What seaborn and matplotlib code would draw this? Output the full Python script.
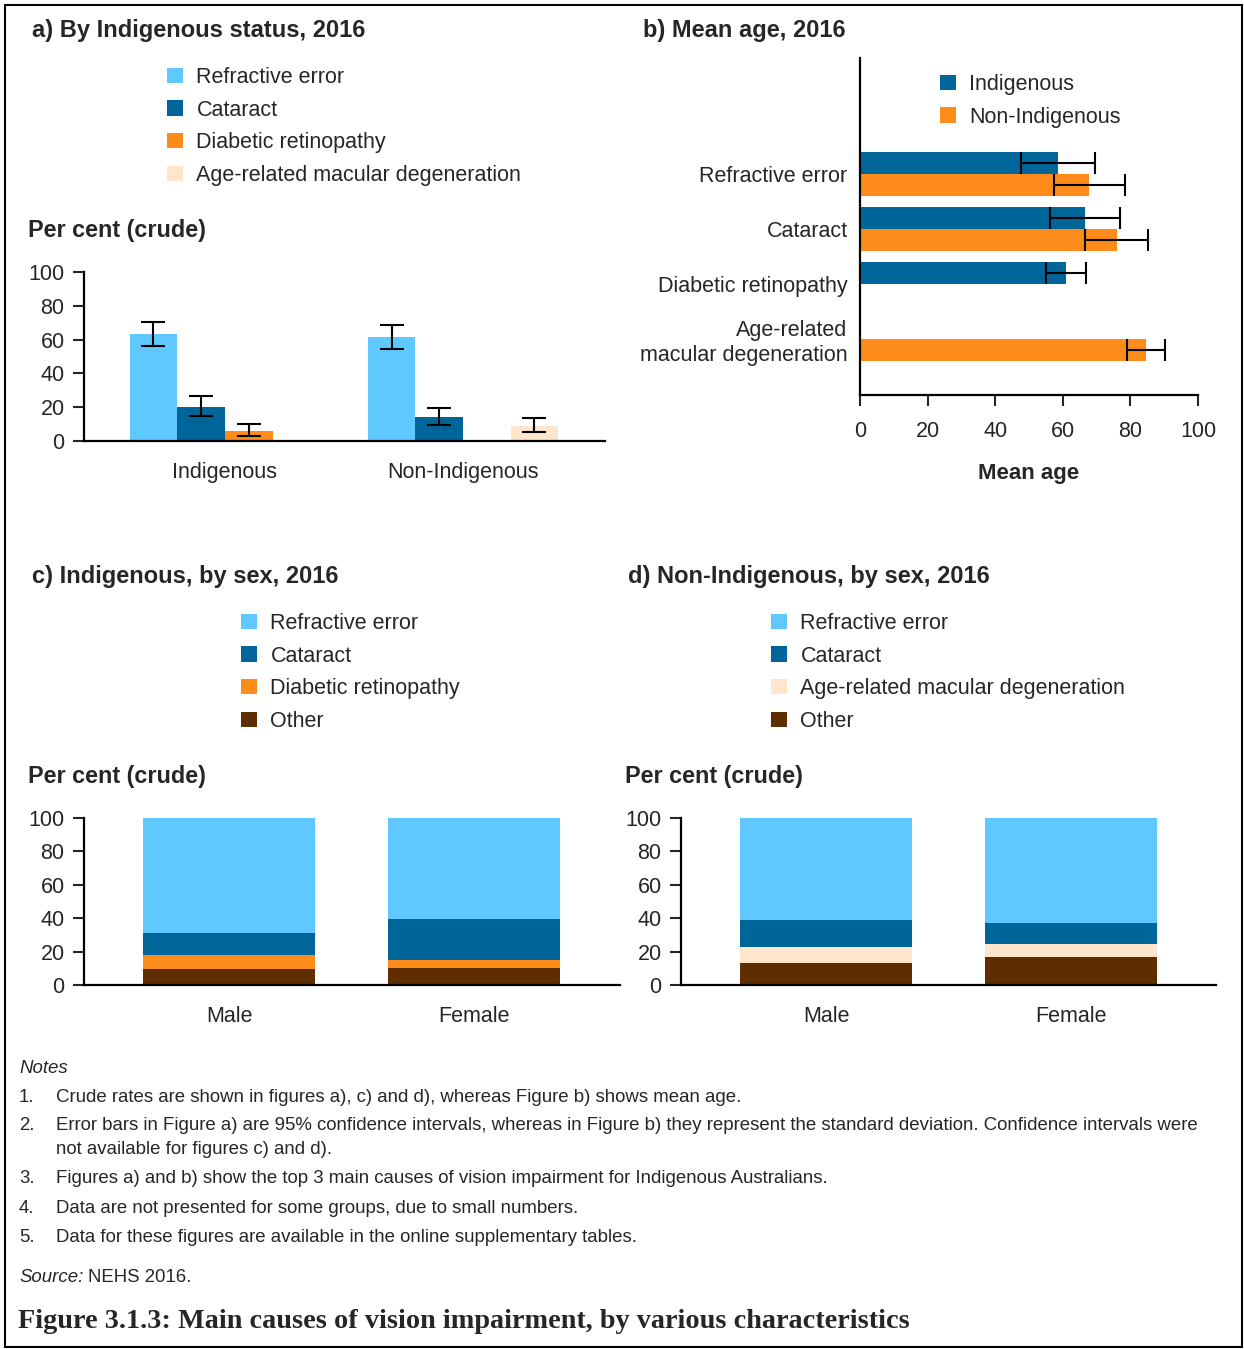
import numpy as np
import pandas as pd
import matplotlib
matplotlib.use("Agg")
import matplotlib.pyplot as plt
import matplotlib.colors as mcolors
from matplotlib.patches import Patch, Rectangle
import seaborn as sns

# ── Colours ────────────────────────────────────────────────────
C_RE = "#5fc8fe"
C_CAT = "#006699"
C_DR = "#ff8b1a"
C_AMD = "#ffe5cc"
C_OTH = "#5e2e00"

# ── a) By Indigenous status (crude %, 95% CI) ──────────────────
CAUSES_A = ["Refractive error", "Cataract", "Diabetic retinopathy",
            "Age-related macular degeneration"]
STATUS = ["Indigenous", "Non-Indigenous"]
a_status = ["Indigenous", "Indigenous", "Indigenous",
            "Non-Indigenous", "Non-Indigenous", "Non-Indigenous"]
a_cause = ["Refractive error", "Cataract", "Diabetic retinopathy",
           "Refractive error", "Cataract", "Age-related macular degeneration"]
a_pct = [63.2, 20.0, 5.7, 61.5, 14.0, 8.9]
a_lo = [56.0, 14.6, 2.8, 54.5, 9.5, 5.1]
a_hi = [70.6, 26.7, 9.9, 68.4, 19.6, 13.8]

# ── b) Mean age (SD) ───────────────────────────────────────────
CAUSES_B = ["Refractive error", "Cataract", "Diabetic retinopathy",
            "Age-related\nmacular degeneration"]
b_cause = ["Refractive error", "Refractive error", "Cataract", "Cataract",
           "Diabetic retinopathy", "Age-related\nmacular degeneration"]
b_status = ["Indigenous", "Non-Indigenous", "Indigenous", "Non-Indigenous",
            "Indigenous", "Non-Indigenous"]
b_age = [58.6, 67.8, 66.6, 76.0, 60.9, 84.6]
b_sd = [11.0, 10.5, 10.3, 9.3, 5.9, 5.6]

# ── c) / d) By sex (crude %, stacked) ──────────────────────────
SEX = ["Male", "Female"]
c_other = [9.7, 10.3]
c_dr = [8.0, 4.8]
c_cat = [13.5, 24.6]
c_re = [68.8, 60.3]
d_other = [13.3, 16.9]
d_amd = [9.5, 7.7]
d_cat = [16.3, 12.7]
d_re = [60.9, 62.7]

NOTES = [
    ["Crude rates are shown in figures a), c) and d), whereas Figure b) shows mean age."],
    ["Error bars in Figure a) are 95% confidence intervals, whereas in Figure b) they represent the standard deviation. Confidence intervals were",
     "not available for figures c) and d)."],
    ["Figures a) and b) show the top 3 main causes of vision impairment for Indigenous Australians."],
    ["Data are not presented for some groups, due to small numbers."],
    ["Data for these figures are available in the online supplementary tables."],
]

sns.set_style("white")
plt.rcParams["font.family"] = ["Liberation Sans", "DejaVu Sans"]

W, H = 1244, 1349
fig = plt.figure(figsize=(W / 100, H / 100), dpi=100)


def px_axes(x0, y0, x1, y1):
    return fig.add_axes([x0 / W, 1 - y1 / H, (x1 - x0) / W, (y1 - y0) / H])


def ftext(x, y, s, **kw):
    kw.setdefault("va", "center")
    return fig.text(x / W, 1 - y / H, s, **kw)


def px_legend(ax, handles, labels, x, y):
    ax.legend(handles, labels, loc="upper left", bbox_to_anchor=(x / W, 1 - y / H),
              bbox_transform=fig.transFigure, frameon=False, borderpad=0,
              borderaxespad=0, fontsize=15.5, handlelength=0.72, handleheight=0.72,
              handletextpad=0.65, labelspacing=0.54)


def style_vertical(ax):
    sns.despine(ax=ax)
    for s in ["left", "bottom"]:
        ax.spines[s].set_linewidth(1.6)
        ax.spines[s].set_color("black")
    ax.set_ylim(0, 100)
    ax.set_yticks(range(0, 101, 20))
    ax.tick_params(axis="y", direction="out", length=8, width=1.5, labelsize=15.5, pad=6,
                   left=True)
    ax.tick_params(axis="x", length=0, labelsize=15.5, pad=15)
    ax.set_xlabel("")
    ax.set_ylabel("")


# ── Panel a ────────────────────────────────────────────────────
pal_a = dict(zip(CAUSES_A, [C_RE, C_CAT, C_DR, C_AMD]))
df_a = pd.DataFrame({"status": a_status, "cause": a_cause, "pct": a_pct,
                     "lo": a_lo, "hi": a_hi})
ax_a = px_axes(84, 272, 605, 441)
sns.barplot(data=df_a, x="status", y="pct", hue="cause", order=STATUS,
            hue_order=CAUSES_A, palette=pal_a, saturation=1, width=0.8,
            errorbar=None, linewidth=0, ax=ax_a)
col2cause = {mcolors.to_hex(v): k for k, v in pal_a.items()}
ci = df_a.set_index(["status", "cause"])
for p in ax_a.patches:
    if not np.isfinite(p.get_height()) or p.get_width() == 0:
        continue
    xc = p.get_x() + p.get_width() / 2
    key = (STATUS[int(round(xc))], col2cause[mcolors.to_hex(p.get_facecolor())])
    row = ci.loc[key]
    ax_a.errorbar(xc, row["pct"], yerr=[[row["pct"] - row["lo"]], [row["hi"] - row["pct"]]],
                  fmt="none", ecolor="black", elinewidth=1.5, capsize=8.5, capthick=1.5)
handles, labels = ax_a.get_legend_handles_labels()
style_vertical(ax_a)
ax_a.set_xlim(-0.592, 1.597)
px_legend(ax_a, handles, labels, 167, 67)

# ── Panel b ────────────────────────────────────────────────────
pal_b = {"Indigenous": C_CAT, "Non-Indigenous": C_DR}
df_b = pd.DataFrame({"cause": b_cause, "status": b_status, "age": b_age, "sd": b_sd})
ax_b = px_axes(860, 58, 1198, 395)
sns.barplot(data=df_b, y="cause", x="age", hue="status", order=CAUSES_B,
            hue_order=STATUS, palette=pal_b, saturation=1, width=0.8,
            errorbar=None, orient="y", linewidth=0, ax=ax_b)
col2status = {mcolors.to_hex(v): k for k, v in pal_b.items()}
sd = df_b.set_index(["cause", "status"])
for p in ax_b.patches:
    if not np.isfinite(p.get_width()) or p.get_height() == 0:
        continue
    yc = p.get_y() + p.get_height() / 2
    key = (CAUSES_B[int(round(yc))], col2status[mcolors.to_hex(p.get_facecolor())])
    row = sd.loc[key]
    ax_b.errorbar(row["age"], yc, xerr=row["sd"], fmt="none", ecolor="black",
                  elinewidth=1.5, capsize=8, capthick=1.5)
handles, labels = ax_b.get_legend_handles_labels()
sns.despine(ax=ax_b)
for s in ["left", "bottom"]:
    ax_b.spines[s].set_linewidth(1.6)
    ax_b.spines[s].set_color("black")
ax_b.set_xlim(0, 100)
ax_b.set_ylim(4.02, -2.11)
ax_b.set_xticks(range(0, 101, 20))
ax_b.tick_params(axis="x", direction="out", length=8, width=1.5, labelsize=15.5, pad=11,
                 bottom=True)
ax_b.tick_params(axis="y", length=0, labelsize=15.5, pad=9)
ax_b.set_ylabel("")
ax_b.set_xlabel("Mean age", fontsize=16, fontweight="bold", labelpad=15)
px_legend(ax_b, handles, labels, 940, 74)


# ── Panels c and d (stacked) ───────────────────────────────────
def stacked(ax, layers, colors, names):
    cum = np.cumsum(np.array(layers), axis=0)
    for vals, col in zip(cum[::-1], colors[::-1]):
        sns.barplot(x=SEX, y=vals, order=SEX, color=col, saturation=1, width=0.7,
                    errorbar=None, linewidth=0, ax=ax)
    style_vertical(ax)
    hnd = [Patch(facecolor=c, linewidth=0) for c in colors[::-1]]
    return hnd, names[::-1]


ax_c = px_axes(84, 818, 620, 985)
h_c, l_c = stacked(ax_c, [c_other, c_dr, c_cat, c_re], [C_OTH, C_DR, C_CAT, C_RE],
                   ["Other", "Diabetic retinopathy", "Cataract", "Refractive error"])
ax_c.set_xlim(-0.592, 1.596)
px_legend(ax_c, h_c, l_c, 241, 613)

ax_d = px_axes(681, 818, 1216, 985)
h_d, l_d = stacked(ax_d, [d_other, d_amd, d_cat, d_re], [C_OTH, C_AMD, C_CAT, C_RE],
                   ["Other", "Age-related macular degeneration", "Cataract", "Refractive error"])
ax_d.set_xlim(-0.592, 1.592)
px_legend(ax_d, h_d, l_d, 771, 613)

# ── Titles and axis captions ───────────────────────────────────
ttl = dict(fontsize=17, fontweight="bold")
ftext(32, 31, "a) By Indigenous status, 2016", **ttl)
ftext(643, 31, "b) Mean age, 2016", **ttl)
ftext(32, 576, "c) Indigenous, by sex, 2016", **ttl)
ftext(628, 576, "d) Non-Indigenous, by sex, 2016", **ttl)
for x, y in [(28, 231), (28, 777), (625, 777)]:
    ftext(x, y, "Per cent (crude)", fontsize=16.8, fontweight="bold")

# ── Notes ──────────────────────────────────────────────────────
NFS = 13.4
ftext(19, 1073, "Notes", fontsize=NFS, style="italic", va="baseline")
note_y = [1102, 1130, 1183, 1213, 1242]
for i, (y, lines) in enumerate(zip(note_y, NOTES), start=1):
    ftext(19, y, f"{i}.", fontsize=NFS, va="baseline")
    for j, s in enumerate(lines):
        ftext(56, y + 24 * j, s, fontsize=NFS, va="baseline")
src = ftext(19, 1282, "Source:", fontsize=NFS, style="italic", va="baseline")
bb = src.get_window_extent(renderer=fig.canvas.get_renderer())
ftext(bb.x1 + 5, 1282, "NEHS 2016.", fontsize=NFS, va="baseline")
ftext(18, 1328, "Figure 3.1.3: Main causes of vision impairment, by various characteristics",
      fontsize=20.3, fontweight="bold", family="Liberation Serif", va="baseline")

fig.add_artist(Rectangle((5 / W, 1 - 1347 / H), 1237 / W, 1342 / H, transform=fig.transFigure,
                         fill=False, edgecolor="black", linewidth=1.5))

fig.savefig("out.png", dpi=100)
